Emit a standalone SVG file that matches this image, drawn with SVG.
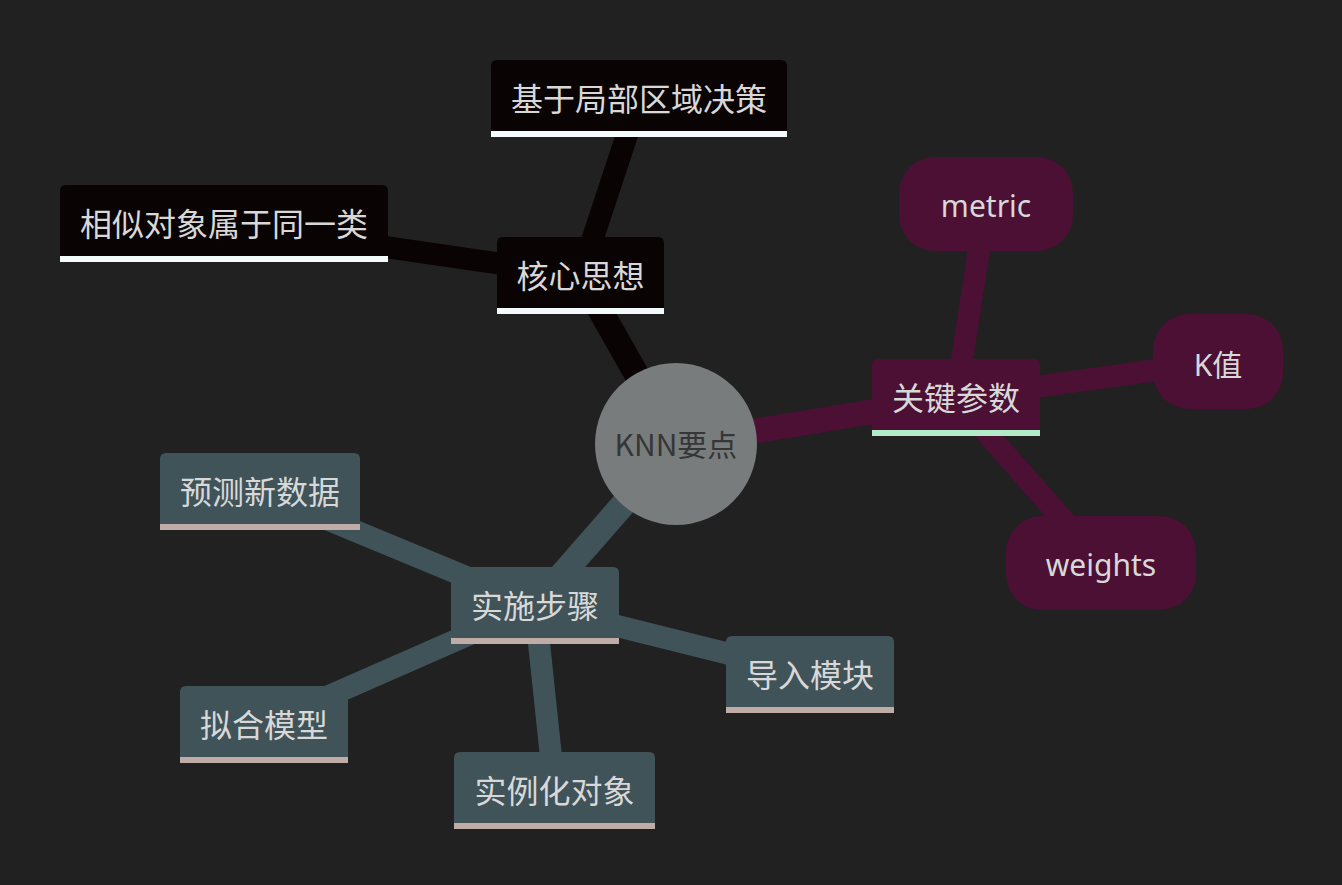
<svg xmlns="http://www.w3.org/2000/svg" width="1342" height="885" viewBox="0 0 1342 885">
<style>
.bg{fill:#212121}
.e{fill:none;stroke-linecap:butt}
.e0{stroke-width:25}
.e1{stroke-width:22}
.s0{fill:#0a0304}
.s1{fill:#3f5359}
.s2{fill:#4b1034}
.u0{fill:#f4fbfc}
.u1{fill:#c0aca7}
.u2{fill:#b2ebc8}
.t{font-family:"Noto Sans CJK SC","Noto Sans",sans-serif;font-size:32px;fill:#d8d8d8;text-anchor:middle}
.tl{font-family:"Noto Sans","Noto Sans CJK SC",sans-serif;font-size:30px;fill:#d8d8d8;text-anchor:middle}
.tr{font-family:"Noto Sans CJK SC",sans-serif;font-size:30px;fill:#363636;text-anchor:middle}
</style>
<rect class="bg" x="0" y="0" width="1342" height="885"/>
<g id="connectors">
<line class="e e0" x1="676" y1="444" x2="580.5" y2="275.5" stroke="#0a0304"/>
<line class="e e1" x1="580.5" y1="275.5" x2="639" y2="98.5" stroke="#0a0304"/>
<line class="e e1" x1="580.5" y1="275.5" x2="224" y2="223.5" stroke="#0a0304"/>
<line class="e e0" x1="676" y1="444" x2="956" y2="398" stroke="#4b1034"/>
<line class="e e1" x1="956" y1="398" x2="986" y2="204" stroke="#4b1034"/>
<line class="e e1" x1="956" y1="398" x2="1218" y2="361.5" stroke="#4b1034"/>
<line class="e e1" x1="956" y1="398" x2="1101" y2="563" stroke="#4b1034"/>
<line class="e e0" x1="676" y1="444" x2="535" y2="605.5" stroke="#3f5359"/>
<line class="e e1" x1="535" y1="605.5" x2="260" y2="491.5" stroke="#3f5359"/>
<line class="e e1" x1="535" y1="605.5" x2="264" y2="724.5" stroke="#3f5359"/>
<line class="e e1" x1="535" y1="605.5" x2="554.5" y2="790" stroke="#3f5359"/>
<line class="e e1" x1="535" y1="605.5" x2="810" y2="674" stroke="#3f5359"/>
</g>
<g id="root">
<circle cx="676" cy="444" r="81" fill="#787c7c"/>
<text class="tr" x="676" y="456">KNN要点</text>
</g>
<g id="n-core">
<path class="s0" d="M497 314V243Q497 237 503 237H658Q664 237 664 243V314Z"/>
<rect class="u0" x="497" y="308" width="167" height="6"/>
<text class="t" x="580.5" y="287.5">核心思想</text>
</g>
<g id="n-local">
<path class="s0" d="M491 137V66Q491 60 497 60H781Q787 60 787 66V137Z"/>
<rect class="u0" x="491" y="131" width="296" height="6"/>
<text class="t" x="639" y="110.5">基于局部区域决策</text>
</g>
<g id="n-similar">
<path class="s0" d="M60 262V191Q60 185 66 185H382Q388 185 388 191V262Z"/>
<rect class="u0" x="60" y="256" width="328" height="6"/>
<text class="t" x="224" y="235.5">相似对象属于同一类</text>
</g>
<g id="n-params">
<path class="s2" d="M872 436V365Q872 359 878 359H1034Q1040 359 1040 365V436Z"/>
<rect class="u2" x="872" y="430" width="168" height="6"/>
<text class="t" x="956" y="409.5">关键参数</text>
</g>
<g id="n-metric">
<rect class="s2" x="899" y="157" width="174" height="94" rx="36"/>
<text class="tl" x="986" y="217">metric</text>
</g>
<g id="n-k">
<rect class="s2" x="1153" y="314" width="130" height="95" rx="36"/>
<text class="tl" x="1218" y="376">K值</text>
</g>
<g id="n-weights">
<rect class="s2" x="1006" y="516" width="190" height="94" rx="36"/>
<text class="tl" x="1101" y="576">weights</text>
</g>
<g id="n-steps">
<path class="s1" d="M451 644V573Q451 567 457 567H613Q619 567 619 573V644Z"/>
<rect class="u1" x="451" y="638" width="168" height="6"/>
<text class="t" x="535" y="617.5">实施步骤</text>
</g>
<g id="n-predict">
<path class="s1" d="M160 530V459Q160 453 166 453H354Q360 453 360 459V530Z"/>
<rect class="u1" x="160" y="524" width="200" height="6"/>
<text class="t" x="260" y="503.5">预测新数据</text>
</g>
<g id="n-fit">
<path class="s1" d="M180 763V692Q180 686 186 686H342Q348 686 348 692V763Z"/>
<rect class="u1" x="180" y="757" width="168" height="6"/>
<text class="t" x="264" y="736.5">拟合模型</text>
</g>
<g id="n-instance">
<path class="s1" d="M454 829V758Q454 752 460 752H649Q655 752 655 758V829Z"/>
<rect class="u1" x="454" y="823" width="201" height="6"/>
<text class="t" x="554.5" y="802.5">实例化对象</text>
</g>
<g id="n-import">
<path class="s1" d="M726 713V642Q726 636 732 636H888Q894 636 894 642V713Z"/>
<rect class="u1" x="726" y="707" width="168" height="6"/>
<text class="t" x="810" y="686.5">导入模块</text>
</g>
</svg>
